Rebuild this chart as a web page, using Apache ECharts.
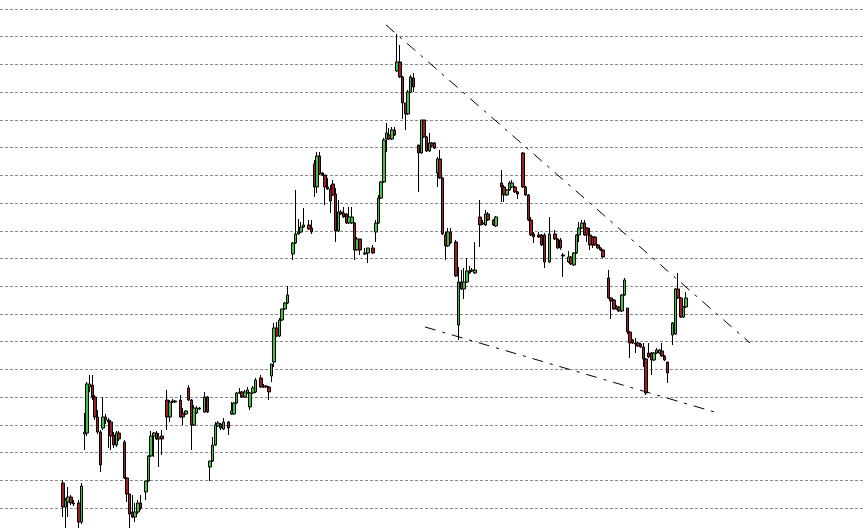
<!DOCTYPE html>
<html><head><meta charset="utf-8">
<script src="https://cdn.jsdelivr.net/npm/echarts@6/dist/echarts.min.js"></script>
<style>html,body{margin:0;padding:0;background:#fff}#c{width:864px;height:529px}</style>
</head><body><div id="c"></div>
<script>
// price values (arbitrary units, gridline step = 27.72); null = no trading slot
const open = [25,1,6,11,5,null,
5,-14,74,75,121,123,111,91,76,80,91,88,86,73,63,75,null,
66,30,14,-4,-9,-4,5,null,
16,27,52,72,75,69,72,null,
108,91,106,107,null,
108,95,94,120,108,83,95,99,null,
96,111,41,47,63,82,84,79,null,
86,94,94,105,115,116,111,115,101,115,116,null,
130,122,122,121,132,146,180,172,188,199,205,null,
254,265,274,276,281,null,
283,280,344,321,352,335,333,321,319,324,314,277,296,295,294,285,285,285,258,269,null,
255,255,null,
260,276,285,310,326,369,373,369,378,437,446,431,405,394,416,430,null,
363,355,388,371,357,365,365,335,349,330,273,262,276,null,
266,183,226,219,226,237,238,235,null,
291,285,283,294,null,
288,282,null,
325,321,313,318,321,321,316,null,
355,321,313,288,274,null,
273,273,273,null,
246,null,
274,269,268,253,null,
246,251,243,255,273,280,285,280,273,271,271,263,260,258,null,
230,210,208,199,201,197,213,200,176,168,165,165,164,161,149,155,155,148,155,155,157,152,146,null,
173,174,219,210,191,201];
const close = [1,8,11,5,4,null,
-14,22,76,124,124,111,91,76,43,91,88,86,72,63,75,69,null,
30,14,-6,-9,-4,5,0,null,
27,52,72,75,69,71,69,null,
91,106,107,106,null,
91,91,97,108,83,100,100,100,null,
111,96,47,63,83,85,80,86,null,
80,97,105,115,116,111,116,118,115,120,128,null,
121,121,121,116,144,180,172,188,199,205,213,null,
265,274,276,281,283,null,
279,276,321,352,334,333,321,319,307,313,277,296,294,291,285,291,291,258,269,258,null,
254,260,null,
255,285,310,326,368,375,369,378,373,446,431,405,394,416,431,421,null,
355,388,371,357,365,362,360,349,330,274,262,276,265,null,
232,226,219,226,237,235,237,238,null,
283,284,294,288,null,
283,291,null,
321,313,318,325,325,316,314,null,
321,313,288,273,271,null,
271,263,246,null,
274,null,
269,260,260,252,null,
251,244,255,273,280,285,273,273,263,263,263,260,258,251,null,
210,207,199,201,197,213,228,176,165,165,164,162,161,149,115,151,148,155,158,158,152,148,135,null,
185,219,210,191,201,210];
const low = [-9,-20,-9,3,2,null,
-20,-16,58,72,116,108,88,74,36,78,84,60,58,60,61,67,null,
29,6,-20,-10,-14,-6,-2,null,
8,26,51,51,68,41,53,null,
78,86,105,105,null,
90,83,93,107,58,82,94,98,null,
95,95,27,46,62,81,78,78,null,
73,93,93,104,114,110,110,114,98,114,115,null,
120,120,120,108,126,141,171,171,187,198,204,null,
248,264,273,275,280,null,
278,274,311,315,333,332,303,318,295,312,266,276,293,290,284,284,284,248,257,253,null,
253,245,null,
254,266,284,309,325,356,368,368,372,436,430,389,378,393,415,416,null,
316,354,370,356,356,361,359,321,329,273,248,261,264,null,
231,168,218,209,225,234,236,234,null,
261,283,282,287,null,
282,281,null,
306,306,312,317,320,315,309,null,
320,312,287,272,265,null,
270,262,240,null,
245,null,
268,259,258,231,null,
245,243,242,254,266,279,272,266,258,260,262,259,257,250,null,
209,189,198,198,196,196,212,174,150,164,155,161,160,141,113,150,133,147,154,154,151,147,125,null,
163,173,209,190,190,200];
const high = [28,10,21,13,8,null,
8,25,95,126,133,133,113,98,78,111,94,90,88,76,77,77,null,
68,31,14,13,5,8,13,null,
27,53,77,76,77,75,78,null,
118,108,109,108,null,
113,100,98,123,109,103,102,101,null,
116,112,47,71,86,87,85,90,null,
87,106,106,116,120,117,118,121,116,122,130,null,
133,124,123,122,144,185,186,190,199,206,222,null,
266,318,289,286,300,null,
288,288,348,356,356,336,333,330,323,328,320,308,298,301,295,301,301,286,271,269,null,
260,260,null,
263,288,313,327,370,385,380,381,381,474,463,432,405,418,433,435,null,
363,388,388,372,375,366,366,351,358,331,276,280,280,null,
268,241,238,240,250,242,240,266,null,
308,288,298,296,null,
289,292,null,
338,323,319,327,328,322,317,null,
356,322,314,291,276,null,
276,274,275,null,
291,null,
278,270,270,255,null,
257,252,256,274,286,288,288,281,280,272,272,264,261,259,null,
238,211,209,203,202,214,230,200,177,169,170,166,165,165,150,165,156,156,160,159,165,153,146,null,
186,220,235,211,202,216];

// trend lines: [slot index, value]
const upperTrend = [[143.8, 483], [279.9, 165]];
const lowerTrend = [[158.4, 181], [267.9, 95]];

const PAD_BEFORE = 23, TOTAL_SLOTS = 323;
const GRID_STEP = 27.72, Y_MAX = 18 * 27.72;

const cats = [];
for (let i = 0; i < TOTAL_SLOTS; i++) cats.push(String(i));
const candles = [];
for (let i = 0; i < PAD_BEFORE; i++) candles.push('-');
for (let i = 0; i < open.length; i++) {
  candles.push(open[i] === null ? '-' : [open[i], close[i], low[i], high[i]]);
}
while (candles.length < TOTAL_SLOTS) candles.push('-');

const chart = echarts.init(document.getElementById('c'), null, {renderer: 'canvas'});
const trendStyle = {color: '#000', width: 1, type: [11, 7, 3, 7]};
chart.setOption({
  animation: false,
  backgroundColor: '#fff',
  grid: {left: 0, right: 0, top: 9, bottom: 21, containLabel: false},
  xAxis: [
    {type: 'category', data: cats, boundaryGap: true, show: false},
    {type: 'value', min: -0.5, max: TOTAL_SLOTS - 0.5, show: false}
  ],
  yAxis: {
    type: 'value', min: 0, max: Y_MAX, interval: GRID_STEP,
    axisLine: {show: false}, axisTick: {show: false}, axisLabel: {show: false},
    splitLine: {show: true, lineStyle: {color: '#8a8a8a', width: 1, type: [3, 2]}}
  },
  series: [
    {
      type: 'candlestick', data: candles, clip: false, barWidth: 3,
      itemStyle: {color: '#3fc43f', color0: '#a11c1c', borderColor: '#000', borderColor0: '#000', borderWidth: 1}
    },
    {type: 'line', xAxisIndex: 1, data: upperTrend, symbol: 'none', lineStyle: trendStyle, silent: true},
    {type: 'line', xAxisIndex: 1, data: lowerTrend, symbol: 'none', lineStyle: trendStyle, silent: true}
  ]
});
</script></body></html>
